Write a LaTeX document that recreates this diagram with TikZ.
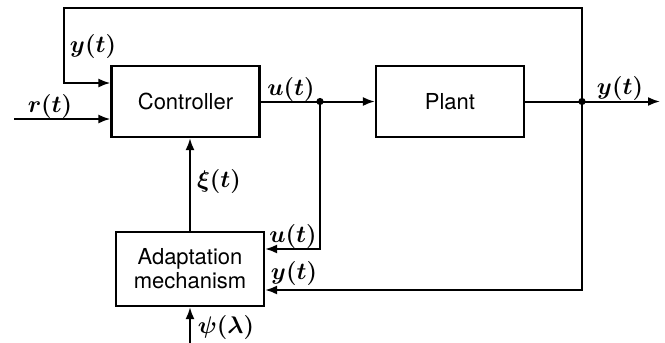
\documentclass[tikz,border=0pt]{standalone}
\usepackage{fontspec}
\setsansfont{TeX Gyre Heros}
\usepackage{tikz}
\usetikzlibrary{arrows.meta,positioning,calc}

\begin{document}
\begin{tikzpicture}[x=0.5pt,y=-0.5pt, every node/.style={font=\sffamily\fontsize{11}{12}\selectfont},
  blockbox/.style={draw,line width=1.1pt,minimum width=74pt,minimum height=35.5pt,align=center,inner sep=1pt},
  wire/.style={line width=1pt},
  sig/.style={wire,-{Latex[length=6pt,width=4.5pt]}},
  lbl/.style={font=\large\boldmath}]
  \useasboundingbox (0,0) rectangle (665,343);
  \node[blockbox] (ctrl) at (185.5,101.5) {Controller};
  \node[blockbox] (plant) at (450,101.5) {Plant};
  \node[blockbox,minimum height=37pt] (adapt) at (190,269) {Adaptation\\mechanism};
  \coordinate (ju) at (320,101.5);
  \coordinate (jy) at (582,101.5);
  \coordinate (ytop) at (64,8);
  \coordinate (rin) at (14,119);
  \coordinate (yout) at (660,101.5);
  \coordinate (psin) at (190,343);
  \draw[wire] (ctrl.east) -- (ju);
  \draw[sig] (ju) -- (plant.west);
  \draw[wire] (plant.east) -- (jy);
  \draw[sig] (jy) -- (yout);
  \draw[sig] (jy) |- (ytop) |- ([yshift=9.25pt]ctrl.west);
  \draw[sig] (rin) -- (ctrl.west |- rin);
  \draw[sig] (ju) |- ([yshift=10pt]adapt.east);
  \draw[sig] (jy) |- ([yshift=-10.5pt]adapt.east);
  \draw[sig] (adapt.north) -- (adapt.north |- ctrl.south);
  \draw[sig] (psin) -- (psin |- adapt.south);
  \foreach \j in {ju,jy}
    \fill (\j) circle (1.8pt);
  \foreach \x/\y/\name/\txt in {93/46/ly1/y(t), 50/106/lr/r(t), 291/89/lu1/u(t), 620/88/ly2/y(t),
      219/181/lxi/\xi(t), 293/236/lu2/u(t), 294/273/ly3/y(t), 226/327/lpsi/\psi(\lambda)}
    \node[lbl] (\name) at (\x,\y) {$\txt$};
\end{tikzpicture}
\end{document}
